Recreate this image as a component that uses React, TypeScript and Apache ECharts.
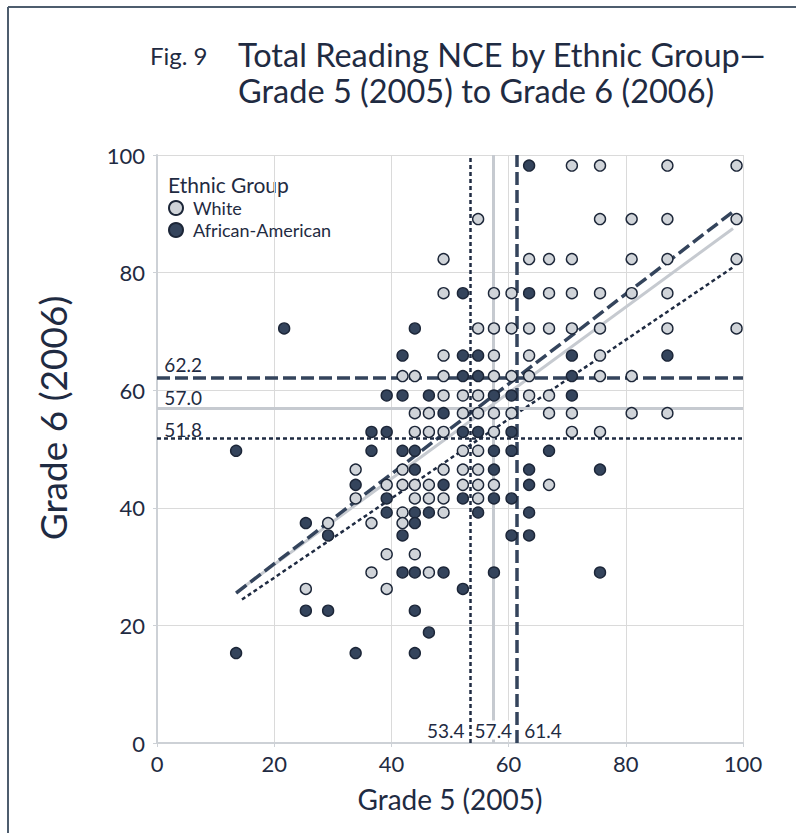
import React, { useEffect, useRef } from "react";
import * as echarts from "echarts";

const FONT = "Lato";
const INK = "#1f2b42";
const DARK = "#34445c";
const LIGHT = "#d0d4d9";
const GRAY_LINE = "#c6cad0";

const xTicks = [0, 20, 40, 60, 80, 100];
const yTicks = [0, 20, 40, 60, 80, 100];

// Grade 5 (x), Grade 6 (y)
const whitePoints: [number, number][] = [
  [70.8, 98.2], [75.6, 98.2], [87.1, 98.2], [98.9, 98.2],
  [54.8, 89.1], [75.6, 89.1], [81.0, 89.1], [87.1, 89.1], [98.9, 89.1],
  [48.9, 82.3], [63.5, 82.3], [66.9, 82.3], [70.8, 82.3], [81.0, 82.3], [87.1, 82.3], [98.9, 82.3],
  [48.9, 76.5], [57.5, 76.5], [60.5, 76.5], [66.9, 76.5], [70.8, 76.5], [75.6, 76.5], [81.0, 76.5], [87.1, 76.5],
  [54.8, 70.5], [57.5, 70.5], [60.5, 70.5], [63.5, 70.5], [66.9, 70.5], [70.8, 70.5], [75.6, 70.5], [87.1, 70.5], [98.9, 70.5],
  [48.9, 65.9], [57.5, 65.9], [63.5, 65.9], [75.6, 65.9],
  [41.9, 62.4], [44.0, 62.4], [48.9, 62.4], [57.5, 62.4], [60.5, 62.4], [63.5, 62.4], [75.6, 62.4], [81.0, 62.4],
  [48.9, 59.1], [52.2, 59.1], [54.8, 59.1], [63.5, 59.1], [66.9, 59.1],
  [44.0, 56.1], [46.4, 56.1], [52.2, 56.1], [54.8, 56.1], [57.5, 56.1], [60.5, 56.1], [66.9, 56.1], [70.8, 56.1], [81.0, 56.1], [87.1, 56.1],
  [44.0, 52.9], [46.4, 52.9], [48.9, 52.9], [57.5, 52.9], [70.8, 52.9], [75.6, 52.9],
  [52.2, 49.7], [54.8, 49.7],
  [33.9, 46.5], [41.9, 46.5], [48.9, 46.5], [52.2, 46.5], [54.8, 46.5],
  [39.2, 43.9], [41.9, 43.9], [44.0, 43.9], [46.4, 43.9], [52.2, 43.9], [54.8, 43.9], [57.5, 43.9], [66.9, 43.9],
  [33.9, 41.6], [44.0, 41.6], [46.4, 41.6], [48.9, 41.6], [54.8, 41.6],
  [41.9, 39.2], [48.9, 39.2],
  [29.2, 37.4], [36.6, 37.4], [41.9, 37.4],
  [39.2, 32.1], [44.0, 32.1],
  [36.6, 29.0], [46.4, 29.0],
  [25.4, 26.2], [39.2, 26.2],
];

const africanAmericanPoints: [number, number][] = [
  [63.5, 98.2],
  [52.2, 76.5], [63.5, 76.5],
  [21.7, 70.5], [44.0, 70.5],
  [41.9, 65.9], [52.2, 65.9], [54.8, 65.9], [70.8, 65.9], [87.1, 65.9],
  [52.2, 62.4], [54.8, 62.4], [70.8, 62.4],
  [39.2, 59.1], [41.9, 59.1], [46.4, 59.1], [57.5, 59.1], [60.5, 59.1], [70.8, 59.1],
  [48.9, 56.1],
  [36.6, 52.9], [39.2, 52.9], [52.2, 52.9], [54.8, 52.9], [60.5, 52.9],
  [13.5, 49.7], [36.6, 49.7], [41.9, 49.7], [44.0, 49.7], [57.5, 49.7], [60.5, 49.7], [66.9, 49.7],
  [44.0, 46.5], [57.5, 46.5], [63.5, 46.5], [75.6, 46.5],
  [33.9, 43.9], [48.9, 43.9], [63.5, 43.9],
  [39.2, 41.6], [52.2, 41.6], [57.5, 41.6], [60.5, 41.6],
  [39.2, 39.2], [44.0, 39.2], [46.4, 39.2], [54.8, 39.2], [63.5, 39.2],
  [25.4, 37.4], [44.0, 37.4],
  [29.2, 35.3], [41.9, 35.3], [60.5, 35.3], [63.5, 35.3],
  [41.9, 29.0], [44.0, 29.0], [48.9, 29.0], [57.5, 29.0], [75.6, 29.0],
  [52.2, 26.2],
  [25.4, 22.5], [29.2, 22.5], [44.0, 22.5],
  [46.4, 18.8],
  [13.5, 15.3], [33.9, 15.3], [44.0, 15.3],
];

// Fit lines (start, end)
const fitDashed: [number, number][] = [[13.5, 25.5], [98.1, 90.2]];
const fitSolid: [number, number][] = [[13.5, 25.6], [98.3, 87.5]];
const fitDotted: [number, number][] = [[14.5, 24.4], [98.3, 80.9]];

// Means
const grade6Means = [62.2, 57.0, 51.8]; // dashed, solid, dotted
const grade5Means = [61.4, 57.4, 53.4]; // dashed, solid, dotted
const meanLabels6 = ["62.2", "57.0", "51.8"];
const meanLabels5 = ["61.4", "57.4", "53.4"];

export default function App() {
  const ref = useRef<HTMLDivElement>(null);
  useEffect(() => {
    document.body.style.margin = "0";
    const chart = echarts.init(ref.current!, null, { renderer: "svg" });
    const dashedStyle = { color: DARK, width: 3.5, type: [13, 5] as any };
    const solidStyle = { color: GRAY_LINE, width: 3, type: "solid" as any };
    const dottedStyle = { color: INK, width: 2.5, type: [4, 3] as any };
    const styles = [dashedStyle, solidStyle, dottedStyle];
    const labelBase = { show: true, color: INK, fontFamily: FONT, fontSize: 19, opacity: 1 };
    const hOffsets = [-13, -10, -9];
    const option: any = {
      animation: false,
      textStyle: { fontFamily: FONT, color: INK },
      grid: { left: 157, right: 53, top: 155, bottom: 90 },
      xAxis: {
        type: "value", min: 0, max: 100, interval: 20,
        name: "Grade 5 (2005)", nameLocation: "middle", nameGap: 42,
        nameTextStyle: { fontSize: 28, color: INK, fontFamily: FONT },
        axisLine: { show: true, lineStyle: { color: "#cdd1d6", width: 2 } },
        axisTick: { show: true, length: 4, lineStyle: { color: "#cdd1d6" } },
        axisLabel: { fontSize: 22, color: INK, margin: 9, fontFamily: FONT },
        splitLine: { show: true, lineStyle: { color: "#dadada", width: 1 } },
      },
      yAxis: {
        type: "value", min: 0, max: 100, interval: 20,
        axisLine: { show: true, lineStyle: { color: "#cdd1d6", width: 2 } },
        axisTick: { show: true, length: 4, lineStyle: { color: "#cdd1d6" } },
        axisLabel: { fontSize: 22, color: INK, margin: 12, fontFamily: FONT },
        splitLine: { show: true, lineStyle: { color: "#dadada", width: 1 } },
      },
      legend: {
        data: ["White", "African-American"],
        orient: "vertical", left: 163, top: 194, itemGap: 4, padding: 5,
        itemWidth: 14, itemHeight: 14, icon: "circle",
        textStyle: { fontSize: 18, color: INK, fontFamily: FONT, padding: [0, 0, 0, 5] },
      },
      graphic: [
        { type: "line", shape: { x1: 8, y1: 7, x2: 796, y2: 7 }, style: { stroke: "#4e5d6e", lineWidth: 2 } },
        { type: "line", shape: { x1: 8, y1: 7, x2: 8, y2: 833 }, style: { stroke: "#4e5d6e", lineWidth: 2 } },
        { type: "text", x: 150, y: 55, style: { text: "Fig. 9", font: `24px ${FONT}`, fill: INK, verticalAlign: "middle" } },
        {
          type: "text", x: 238, y: 36,
          style: {
            text: "Total Reading NCE by Ethnic Group—\nGrade 5 (2005) to Grade 6 (2006)",
            font: `32.5px ${FONT}`, fill: INK, verticalAlign: "top", lineHeight: 36,
          },
        },
        { type: "text", x: 168, y: 184, style: { text: "Ethnic Group", font: `21px ${FONT}`, fill: INK, verticalAlign: "middle" } },
        {
          type: "text", x: 52, y: 418, rotation: Math.PI / 2,
          style: { text: "Grade 6 (2006)", font: `37px ${FONT}`, fill: INK, align: "center", verticalAlign: "middle" },
        },
      ],
      series: [
        {
          name: "means", type: "line", data: [], silent: true,
          markLine: {
            silent: true, symbol: "none", label: { show: false },
            data: [
              ...grade6Means.map((v, i) => ({ yAxis: v, lineStyle: styles[i] })),
              ...grade5Means.map((v, i) => ({ xAxis: v, lineStyle: styles[i] })),
            ],
          },
        },
        { name: "fitSolid", type: "line", data: fitSolid, symbol: "none", lineStyle: solidStyle, z: 3 },
        { name: "fitDashed", type: "line", data: fitDashed, symbol: "none", lineStyle: dashedStyle, z: 3 },
        { name: "fitDotted", type: "line", data: fitDotted, symbol: "none", lineStyle: dottedStyle, z: 3 },
        {
          name: "White", type: "scatter", data: whitePoints, symbolSize: 11, z: 5,
          itemStyle: { color: LIGHT, borderColor: "#1c2638", borderWidth: 1.4, opacity: 1 },
        },
        {
          name: "African-American", type: "scatter", data: africanAmericanPoints, symbolSize: 11, z: 5,
          itemStyle: { color: DARK, borderColor: "#1c2638", borderWidth: 1.4, opacity: 1 },
        },
        {
          name: "meanLabels", type: "scatter", symbolSize: 1, silent: true, z: 6,
          itemStyle: { color: "rgba(0,0,0,0)", opacity: 1 },
          data: [
            ...grade6Means.map((v, i) => ({
              value: [1, v],
              label: { ...labelBase, formatter: meanLabels6[i], position: "right", offset: [-4, hOffsets[i]] },
            })),
            {
              value: [grade5Means[0], 0],
              label: { ...labelBase, formatter: meanLabels5[0], position: "right", offset: [2, -13] },
            },
            {
              value: [grade5Means[1], 0],
              label: { ...labelBase, formatter: meanLabels5[1], position: "inside", offset: [0, -13], backgroundColor: "#ffffff", padding: [0, 1], textBorderWidth: 0 },
            },
            {
              value: [grade5Means[2], 0],
              label: { ...labelBase, formatter: meanLabels5[2], position: "left", offset: [0, -13] },
            },
          ],
        },
      ],
    };
    chart.setOption(option);
    return () => chart.dispose();
  }, []);
  return <div ref={ref} style={{ width: 796, height: 833 }} />;
}
